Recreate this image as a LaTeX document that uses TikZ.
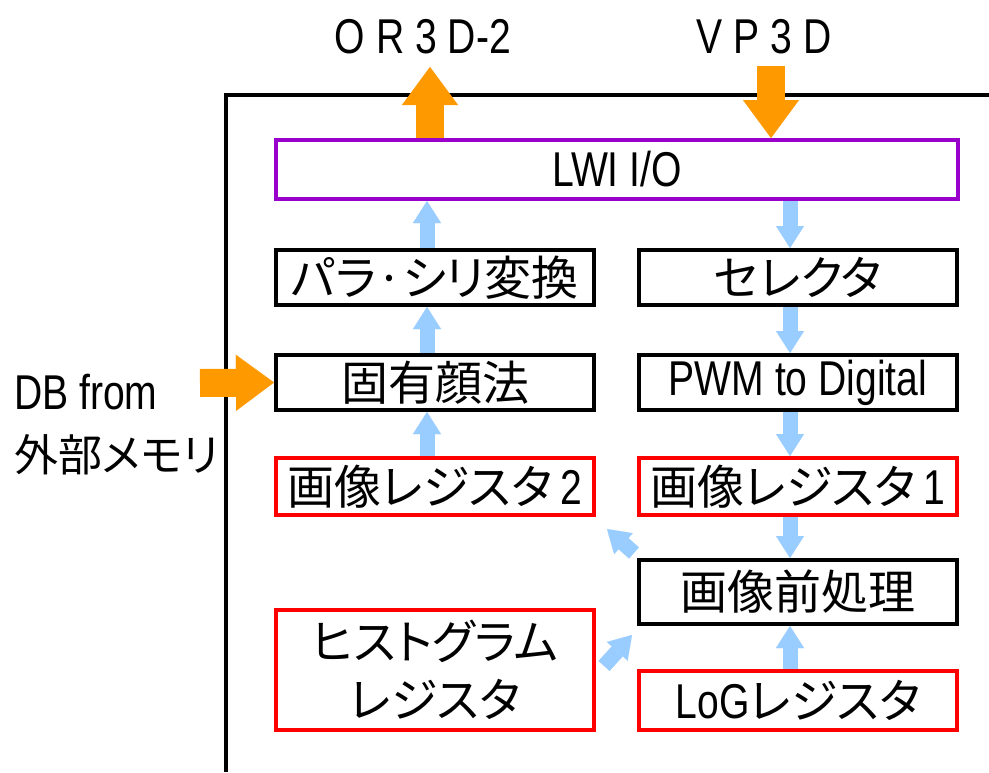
\documentclass[tikz,border=0pt]{standalone}
\usepackage{fontspec}
\setmainfont{Noto Sans CJK JP}[RawFeature=+palt]
\newfontfamily\lat{Liberation Sans}[FakeStretch=0.8,Scale=1.04]
\usetikzlibrary{arrows.meta,calc}
\definecolor{orng}{HTML}{FF9900}
\definecolor{lblue}{HTML}{99CCFF}
\definecolor{purp}{HTML}{9900CC}
\definecolor{rd}{HTML}{FF0000}
\begin{document}
\begin{tikzpicture}[x=1pt,y=-1pt,
  box/.style={draw=black, line width=4pt, minimum width=318pt, inner sep=0pt, fill=white,
    font=\fontsize{47}{47}\selectfont, align=center},
  regbox/.style={box, draw=rd},
  barrow/.style={draw=lblue, line width=15pt, -{Triangle[width=28pt,length=22pt,line width=0.01pt]}},
  oarrow/.style={draw=orng, line width=28pt, -{Triangle[width=56pt,length=38pt,line width=0.01pt]}},
  lbl/.style={inner sep=0pt, font=\fontsize{47}{47}\selectfont}]
\useasboundingbox (0,0) rectangle (989,772);
\fill[white] (0,0) rectangle (989,772);
% outer frame
\draw[line width=4pt] (226,772) -- (226,95) -- (989,95);
% boxes
\node[box, draw=purp, minimum width=682pt, minimum height=59pt] (lwi) at (617,169.5) {\lat LWI I/O};
\node[box, minimum height=55pt] (para) at (435,277.5) {パラ·シリ変換};
\node[box, minimum height=55pt] (sel) at (798,277.5) {セレクタ};
\node[box, minimum height=55pt] (koyu) at (435,382.5) {固有顔法};
\node[box, minimum height=55pt] (pwm) at (798,382.5) {\lat PWM to Digital};
\node[regbox, minimum height=57pt] (reg2) at (435,486.5) {画像レジスタ\,{\lat 2}};
\node[regbox, minimum height=57pt] (reg1) at (798,486.5) {画像レジスタ\,{\lat 1}};
\node[box, minimum height=64pt] (pre) at (798,592) {画像前処理};
\node[regbox, minimum height=120pt] (hist) at (435,670) {ヒストグラム\\[11pt]レジスタ};
\node[regbox, minimum height=59pt] (log) at (798,700.5) {{\lat LoG}レジスタ};
% outside labels
\node[lbl] (or) at (423,37) {\lat O R 3 D-2};
\node[lbl] (vp) at (764,37) {\lat V P 3 D};
\node[lbl, anchor=base west] (db1) at (14,409) {\lat DB from};
\node[lbl, anchor=west, font=\fontsize{44}{44}\selectfont] (db2) at (14,455) {外部メモリ};
% coordinates
\coordinate (ortip) at (430,67);
\coordinate (vptail) at (771,66);
\coordinate (dbtail) at (200,383);
\path (para.north) ++(-8,0) coordinate (lx);
\path (sel.north) ++(-8,0) coordinate (rx);
% orange arrows
\draw[oarrow] (ortip |- lwi.north) -- (ortip);
\draw[oarrow] (vptail) -- (vptail |- lwi.north);
\draw[oarrow] (dbtail) -- (koyu.west);
% blue arrows, left column
\draw[barrow] (lx |- para.north) -- (lx |- lwi.south);
\draw[barrow] (lx |- koyu.north) -- (lx |- para.south);
\draw[barrow] (lx |- reg2.north) -- (lx |- koyu.south);
% blue arrows, right column
\draw[barrow] (rx |- lwi.south) -- (rx |- sel.north);
\draw[barrow] (rx |- sel.south) -- (rx |- pwm.north);
\draw[barrow] (rx |- pwm.south) -- (rx |- reg1.north);
\draw[barrow] (rx |- reg1.south) -- (rx |- pre.north);
\draw[barrow] (rx |- log.north) -- (rx |- pre.south);
% diagonal arrows
\draw[barrow] ([shift={(-3,-5)}]pre.north west) -- ([shift={(11,12)}]reg2.south east);
\draw[barrow] ([shift={(8,-4)}]hist.east) -- ([shift={(-5,9)}]pre.south west);
\end{tikzpicture}
\end{document}
